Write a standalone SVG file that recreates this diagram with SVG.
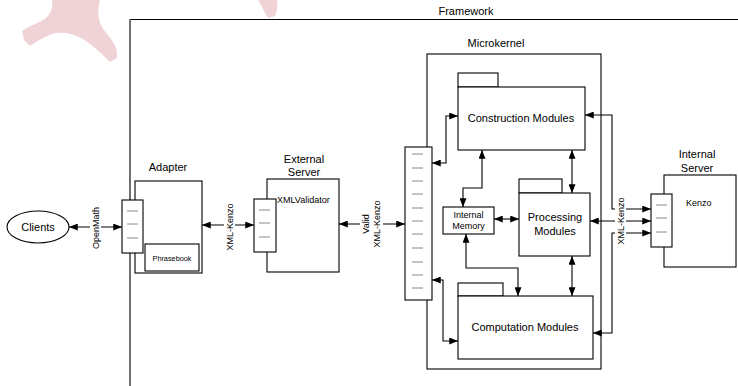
<svg xmlns="http://www.w3.org/2000/svg" width="738" height="386" viewBox="0 0 738 386">
<style>
text{font-family:"Liberation Sans",Arial,sans-serif;fill:#000}
.t11{font-size:11px}
.t9{font-size:9px}
.box{fill:#fff;stroke:#000;stroke-width:1.1}
.bar{fill:#fff;stroke:#000;stroke-width:1.1}
.tick{stroke:#888;stroke-width:1}
.con{fill:none;stroke:#000;stroke-width:1.1;marker-start:url(#ah);marker-end:url(#ah)}
.one{fill:none;stroke:#000;stroke-width:1.1}
.bg{fill:#fff}
</style>
<defs>
<marker id="ah" viewBox="0 0 10 8" refX="10" refY="4" markerWidth="9" markerHeight="7" markerUnits="userSpaceOnUse" orient="auto-start-reverse"><path d="M0,0 L10,4 L0,8 z" fill="#000"/></marker>
<marker id="ahe" viewBox="0 0 10 8" refX="10" refY="4" markerWidth="9" markerHeight="7" markerUnits="userSpaceOnUse" orient="auto"><path d="M0,0 L10,4 L0,8 z" fill="#000"/></marker>
</defs>
<rect width="738" height="386" fill="#fff"/>
<g id="watermark" fill="#efd3d7">
<path d="M52,0 L100,0 C97,12 98,22 104,30 C110,38 116,44 117,52 L117,58 L110,62 C104,56 96,48 86,41 C74,33 62,31 52,34 C44,37 36,42 30,46 L24,40 L22,31 C30,25 40,23 46,18 C52,12 53,6 52,0 Z"/>
<path d="M258,0 L277,0 C278,6 277,12 275,16 L268,18 C264,12 262,6 258,0 Z"/>
</g>
<g id="framework">
<line x1="130" y1="19.5" x2="738" y2="19.5" stroke="#000" stroke-width="1.2"/>
<line x1="130" y1="19" x2="130" y2="386" stroke="#707070" stroke-width="2"/>
<text class="t11" x="466" y="15" text-anchor="middle">Framework</text>
</g>
<g id="microkernel">
<rect class="box" x="427" y="54" width="174" height="315"/>
<text class="t11" x="496" y="47" text-anchor="middle">Microkernel</text>
</g>
<g id="clients">
<ellipse cx="38" cy="227" rx="31" ry="16" fill="#fff" stroke="#000" stroke-width="1.1"/>
<text class="t11" x="38" y="231" text-anchor="middle">Clients</text>
</g>
<g id="adapter">
<text class="t11" x="168" y="171" text-anchor="middle">Adapter</text>
<rect class="box" x="135" y="181" width="67" height="92"/>
<rect class="bar" x="122" y="200" width="21" height="53"/>
<line class="tick" x1="127" y1="211" x2="138" y2="211"/>
<line class="tick" x1="127" y1="224" x2="138" y2="224"/>
<line class="tick" x1="127" y1="238" x2="138" y2="238"/>
<rect class="box" x="145" y="244" width="54" height="27"/>
<text x="172" y="261" text-anchor="middle" style="font-size:7.3px">Phrasebook</text>
</g>
<g id="external-server">
<text class="t11" x="304" y="163" text-anchor="middle">External</text>
<text class="t11" x="304" y="176" text-anchor="middle">Server</text>
<rect class="box" x="267" y="179" width="72" height="93"/>
<rect class="bar" x="254" y="199" width="22" height="53"/>
<line class="tick" x1="259" y1="210" x2="270" y2="210"/>
<line class="tick" x1="259" y1="223" x2="270" y2="223"/>
<line class="tick" x1="259" y1="237" x2="270" y2="237"/>
<text class="t9" x="277" y="203">XMLValidator</text>
</g>
<g id="kernel-interface">
<rect class="bar" x="405" y="147" width="27" height="153"/>
<line class="tick" x1="412" y1="154" x2="423" y2="154"/>
<line class="tick" x1="412" y1="168" x2="423" y2="168"/>
<line class="tick" x1="412" y1="181" x2="423" y2="181"/>
<line class="tick" x1="412" y1="194" x2="423" y2="194"/>
<line class="tick" x1="412" y1="208" x2="423" y2="208"/>
<line class="tick" x1="412" y1="221" x2="423" y2="221"/>
<line class="tick" x1="412" y1="234" x2="423" y2="234"/>
<line class="tick" x1="412" y1="248" x2="423" y2="248"/>
<line class="tick" x1="412" y1="262" x2="423" y2="262"/>
<line class="tick" x1="412" y1="275" x2="423" y2="275"/>
<line class="tick" x1="412" y1="288" x2="423" y2="288"/>
</g>
<g id="construction-modules">
<rect class="box" x="458" y="73" width="40" height="14"/>
<rect class="box" x="458" y="87" width="127" height="63"/>
<text class="t11" x="521" y="122" text-anchor="middle">Construction Modules</text>
</g>
<g id="processing-modules">
<rect class="box" x="519" y="179" width="43" height="14"/>
<rect class="box" x="519" y="193" width="71" height="63"/>
<text class="t11" x="555" y="221" text-anchor="middle">Processing</text>
<text class="t11" x="555" y="235" text-anchor="middle">Modules</text>
</g>
<g id="computation-modules">
<rect class="box" x="458" y="283" width="45" height="13"/>
<rect class="box" x="458" y="296" width="135" height="63"/>
<text class="t11" x="525" y="331" text-anchor="middle">Computation Modules</text>
</g>
<g id="internal-memory">
<rect class="box" x="443" y="207" width="51" height="27"/>
<text class="t9" x="468.5" y="218" text-anchor="middle">Internal</text>
<text class="t9" x="468.5" y="229" text-anchor="middle">Memory</text>
</g>
<g id="internal-server">
<text class="t11" x="697" y="158" text-anchor="middle">Internal</text>
<text class="t11" x="697" y="172" text-anchor="middle">Server</text>
<rect class="box" x="664" y="175" width="72" height="92"/>
<rect class="bar" x="651" y="194" width="21" height="53"/>
<line class="tick" x1="656" y1="205" x2="667" y2="205"/>
<line class="tick" x1="656" y1="218" x2="667" y2="218"/>
<line class="tick" x1="656" y1="232" x2="667" y2="232"/>
<text class="t9" x="686" y="206">Kenzo</text>
</g>
<g id="connectors">
<path class="con" d="M69,227 L122,227"/>
<path class="con" d="M202,225 L254,225"/>
<path class="con" d="M339,224 L405,224"/>
<path class="con" d="M432,163 L446,163 L446,116 L458,116"/>
<path class="con" d="M432,280 L443,280 L443,341 L458,341"/>
<path class="con" d="M482,150 L482,188 L463,188 L463,207"/>
<path class="con" d="M572,150 L572,193"/>
<path class="con" d="M494,219 L519,219"/>
<path class="con" d="M466,234 L466,268 L518,268 L518,296"/>
<path class="con" d="M572,256 L572,296"/>
<path class="con" d="M585,115 L612,115 L612,209 L651,209"/>
<path class="con" d="M590,221 L651,221"/>
<path class="con" d="M593,333 L612,333 L612,233 L651,233"/>
</g>
<g id="labels">
<rect class="bg" x="90" y="205" width="11" height="46"/>
<text class="t9" transform="translate(95.5,228) rotate(-90)" text-anchor="middle" dominant-baseline="central">OpenMath</text>
<rect class="bg" x="224" y="202" width="11" height="50"/>
<text class="t9" transform="translate(229.5,227) rotate(-90)" text-anchor="middle" dominant-baseline="central">XML-Kenzo</text>
<rect class="bg" x="360" y="199" width="23" height="51"/>
<text class="t9" transform="translate(366,224) rotate(-90)" text-anchor="middle" dominant-baseline="central">Valid</text>
<text class="t9" transform="translate(377,224) rotate(-90)" text-anchor="middle" dominant-baseline="central">XML-Kenzo</text>
<rect class="bg" x="615" y="196" width="11" height="50"/>
<text class="t9" transform="translate(620.5,221) rotate(-90)" text-anchor="middle" dominant-baseline="central">XML-Kenzo</text>
</g>
</svg>
